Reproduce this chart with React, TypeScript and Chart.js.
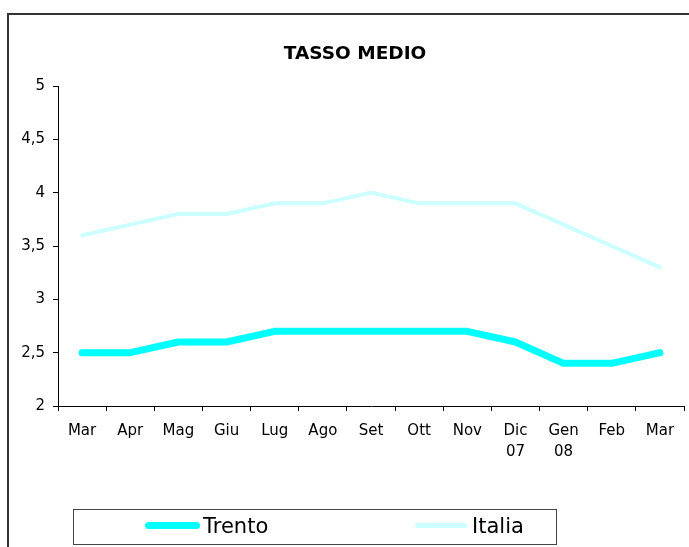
import { useEffect, useRef } from 'react';
import { Chart, registerables } from 'chart.js';

Chart.register(...registerables);

const categories: (string | string[])[] = [
  'Mar', 'Apr', 'Mag', 'Giu', 'Lug', 'Ago', 'Set', 'Ott', 'Nov',
  ['Dic', '07'], ['Gen', '08'], 'Feb', 'Mar',
];
const trento = [2.5, 2.5, 2.6, 2.6, 2.7, 2.7, 2.7, 2.7, 2.7, 2.6, 2.4, 2.4, 2.5];
const italia = [3.6, 3.7, 3.8, 3.8, 3.9, 3.9, 4.0, 3.9, 3.9, 3.9, 3.7, 3.5, 3.3];
const yTicks = [2, 2.5, 3, 3.5, 4, 4.5, 5];
const seriesNames = ['Trento', 'Italia'];
const seriesColors = ['#00FFFF', '#CCFFFF'];
const seriesWidths = [7, 4];
const chartTitle = 'TASSO MEDIO';

const FONT = '"DejaVu Sans", sans-serif';

export default function App() {
  const ref = useRef<HTMLCanvasElement>(null);

  useEffect(() => {
    const titlePlugin = {
      id: 'customTitle',
      afterDraw(chart: any) {
        const ctx = chart.ctx as CanvasRenderingContext2D;
        ctx.save();
        ctx.font = `bold 18.5px ${FONT}`;
        ctx.fillStyle = '#000';
        ctx.textAlign = 'center';
        ctx.textBaseline = 'alphabetic';
        ctx.fillText(chartTitle, 355, 59);
        ctx.restore();
      },
    };

    const tickFont = { family: FONT, size: 15, lineHeight: 1.38 };

    const chart = new Chart(ref.current!, {
      type: 'line',
      data: {
        labels: categories as any,
        datasets: [
          {
            label: seriesNames[0],
            data: trento,
            borderColor: seriesColors[0],
            backgroundColor: seriesColors[0],
            borderWidth: seriesWidths[0],
            pointRadius: 0,
            tension: 0,
            borderCapStyle: 'round',
            borderJoinStyle: 'round',
            fill: false,
          },
          {
            label: seriesNames[1],
            data: italia,
            borderColor: seriesColors[1],
            backgroundColor: seriesColors[1],
            borderWidth: seriesWidths[1],
            pointRadius: 0,
            tension: 0,
            borderCapStyle: 'round',
            borderJoinStyle: 'round',
            fill: false,
          },
        ],
      },
      options: {
        responsive: false,
        animation: false,
        events: [],
        layout: { padding: { left: 8, right: 5, top: 86, bottom: 91 } },
        plugins: {
          legend: { display: false },
          title: { display: false },
          tooltip: { enabled: false },
        },
        scales: {
          x: {
            offset: true,
            grid: {
              display: true,
              drawOnChartArea: false,
              drawTicks: true,
              tickLength: 5,
              color: '#000',
              offset: true,
            },
            border: { display: true, color: '#000', width: 1 },
            ticks: {
              color: '#000',
              font: tickFont,
              padding: 10,
              maxRotation: 0,
              minRotation: 0,
              autoSkip: false,
            },
            afterFit: (s: any) => {
              s.height = 50;
            },
          },
          y: {
            min: yTicks[0],
            max: yTicks[yTicks.length - 1],
            afterBuildTicks: (s: any) => {
              s.ticks = yTicks.map((v) => ({ value: v }));
            },
            grid: {
              display: true,
              drawOnChartArea: false,
              drawTicks: true,
              tickLength: 5,
              color: '#000',
            },
            border: { display: true, color: '#000', width: 1 },
            ticks: {
              color: '#000',
              font: tickFont,
              padding: 8,
              callback: (v: any) => String(v).replace('.', ','),
            },
            afterFit: (s: any) => {
              s.width = 50;
            },
          },
        },
      },
      plugins: [titlePlugin],
    } as any);

    return () => chart.destroy();
  }, []);

  const legendText: React.CSSProperties = {
    position: 'absolute',
    top: 516,
    fontFamily: FONT,
    fontSize: 21,
    lineHeight: '21px',
    color: '#000',
    whiteSpace: 'nowrap',
  };

  return (
    <div
      style={{
        position: 'absolute',
        left: 0,
        top: 0,
        width: 689,
        height: 547,
        overflow: 'hidden',
        background: '#fff',
      }}
    >
      <canvas ref={ref} width={689} height={547} style={{ position: 'absolute', left: 0, top: 0 }} />
      <div
        style={{
          position: 'absolute',
          left: 7,
          top: 13,
          width: 720,
          height: 600,
          borderTop: '2px solid #333',
          borderLeft: '2px solid #333',
          pointerEvents: 'none',
        }}
      />
      <div
        style={{
          position: 'absolute',
          left: 73,
          top: 509,
          width: 484,
          height: 36,
          border: '1px solid #444',
          boxSizing: 'border-box',
        }}
      />
      <div
        style={{
          position: 'absolute',
          left: 145,
          top: 522,
          width: 55,
          height: seriesWidths[0],
          borderRadius: 4,
          background: seriesColors[0],
        }}
      />
      <div style={{ ...legendText, left: 203 }}>{seriesNames[0]}</div>
      <div
        style={{
          position: 'absolute',
          left: 415,
          top: 523,
          width: 52,
          height: 5,
          borderRadius: 3,
          background: seriesColors[1],
        }}
      />
      <div style={{ ...legendText, left: 472 }}>{seriesNames[1]}</div>
    </div>
  );
}
